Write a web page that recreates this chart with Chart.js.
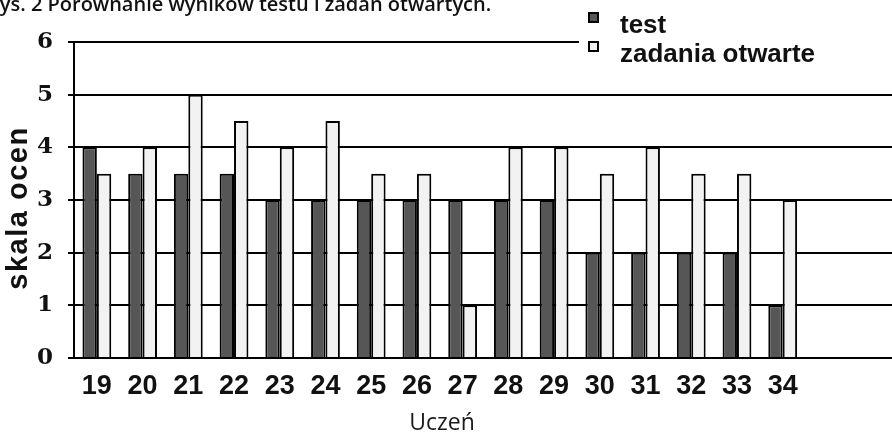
<!DOCTYPE html>
<html><head><meta charset="utf-8">
<script src="https://cdn.jsdelivr.net/npm/chart.js@4/dist/chart.umd.min.js"></script>
<style>
html,body{margin:0;padding:0;background:#fff;overflow:hidden;width:892px;height:433px}
#wrap{position:relative;width:897px;height:433px}
</style></head>
<body><div id="wrap"><canvas id="c" width="897" height="433"></canvas></div>
<script>
const categories = ['19','20','21','22','23','24','25','26','27','28','29','30','31','32','33','34'];
const testScores = [4,3.5,3.5,3.5,3,3,3,3,3,3,3,2,2,2,2,1];
const openTaskScores = [3.5,4,5,4.5,4,4.5,3.5,3.5,1,4,4,3.5,4,3.5,3.5,3];
const seriesNames = ['test','zadania otwarte'];
const yTicks = [0,1,2,3,4,5,6];
const chartTitle = 'Rys. 2 Porównanie wyników testu i zadań otwartych.';
const yAxisTitle = 'skala ocen';
const xAxisTitle = 'Uczeń';

// two empty slots at the right end of the category axis (plot area continues past 34)
const labels = categories.concat(['', '']);

const seriesColors = ['#565656', '#f2f2f2'];

const extrasPlugin = {
  id: 'extras',
  afterDraw(chart) {
    const ctx = chart.ctx;
    ctx.save();
    ctx.textBaseline = 'alphabetic';
    // page caption (cut at the top edge as in the scan)
    ctx.fillStyle = '#111';
    ctx.font = '600 20px "Open Sans"';
    ctx.fillText(chartTitle, -13, 11);
    // y axis title
    ctx.save();
    ctx.translate(27, 208);
    ctx.rotate(-Math.PI / 2);
    ctx.font = 'bold 29px "Liberation Sans"';
    ctx.letterSpacing = '1.5px';
    ctx.textAlign = 'center';
    ctx.fillStyle = '#111';
    ctx.fillText(yAxisTitle, 0, 0);
    ctx.restore();
    // x axis title
    ctx.font = '23px "Open Sans"';
    ctx.textAlign = 'center';
    ctx.fillStyle = '#1a1a1a';
    ctx.fillText(xAxisTitle, 442, 430);
    ctx.textAlign = 'left';
    // legend box
    ctx.fillStyle = '#fff';
    ctx.fillRect(579, 0, 330, 72);
    const items = chart.data.datasets;
    const ys = [33, 62];
    items.forEach((ds, i) => {
      const y = ys[i];
      ctx.fillStyle = ds.backgroundColor;
      ctx.fillRect(589, y - 20, 9, 9);
      ctx.strokeStyle = '#000';
      ctx.lineWidth = 2;
      ctx.strokeRect(589, y - 20, 9, 9);
      ctx.fillStyle = '#111';
      ctx.font = 'bold 26px "Liberation Sans"';
      ctx.fillText(ds.label, 620, y);
    });
    ctx.restore();
  }
};

new Chart(document.getElementById('c'), {
  type: 'bar',
  data: {
    labels: labels,
    datasets: [
      { label: seriesNames[0], data: testScores, backgroundColor: seriesColors[0], borderColor: '#000', borderWidth: 2, categoryPercentage: 0.63, barPercentage: 1.0 },
      { label: seriesNames[1], data: openTaskScores, backgroundColor: seriesColors[1], borderColor: '#000', borderWidth: 2, categoryPercentage: 0.63, barPercentage: 1.0 }
    ]
  },
  options: {
    responsive: false,
    animation: false,
    devicePixelRatio: 1,
    layout: { padding: { top: 42, left: 0, right: 0, bottom: 0 } },
    plugins: { legend: { display: false }, tooltip: { enabled: false }, title: { display: false } },
    scales: {
      x: {
        grid: { display: false, drawTicks: false },
        border: { display: true, color: '#000', width: 2 },
        ticks: { font: { family: 'Liberation Sans', weight: 'bold', size: 27 }, color: '#111', padding: 12, maxRotation: 0, autoSkip: false },
        title: { display: false },
        afterFit(s) { s.height = 75; }
      },
      y: {
        min: 0, max: 6,
        afterBuildTicks(s) { s.ticks = yTicks.map(v => ({ value: v })); },
        ticks: { font: { family: 'DejaVu Serif', weight: 'bold', size: 23 }, color: '#111', padding: 15 },
        grid: { color: '#000', lineWidth: 2, tickLength: 6, drawTicks: true },
        border: { display: true, color: '#000', width: 2 },
        title: { display: false },
        afterFit(s) { s.width = 74; }
      }
    }
  },
  plugins: [extrasPlugin]
});
</script>
</body></html>
